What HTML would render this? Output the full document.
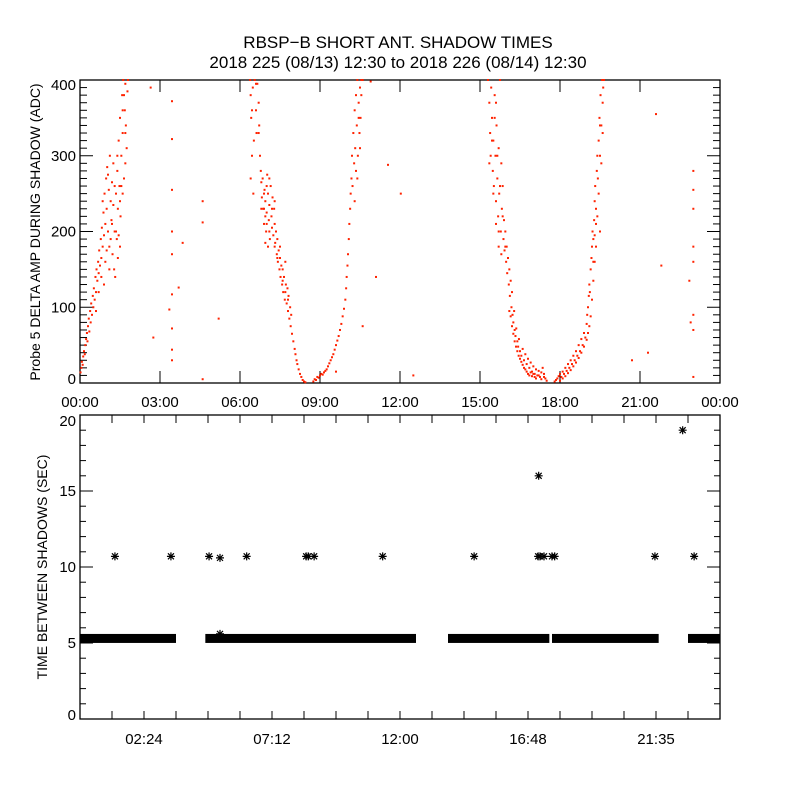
<!DOCTYPE html>
<html><head><meta charset="utf-8"><style>
html,body{margin:0;padding:0;background:#fff;}
svg text{font-family:"Liberation Sans",sans-serif;fill:#000;}
</style></head><body>
<svg id="chart" width="800" height="800" viewBox="0 0 800 800" xmlns="http://www.w3.org/2000/svg">
<rect width="800" height="800" fill="#fff"/>
<text x="398" y="48" font-size="17" text-anchor="middle">RBSP−B SHORT ANT. SHADOW TIMES</text>
<text x="398" y="68" font-size="17" text-anchor="middle">2018 225 (08/13) 12:30 to 2018 226 (08/14) 12:30</text>
<g id="topPanel"></g>
<g id="botPanel"></g>
<text transform="translate(40,232) rotate(-90)" font-size="14" text-anchor="middle">Probe 5 DELTA AMP DURING SHADOW (ADC)</text>
<text transform="translate(47,567) rotate(-90)" font-size="14" text-anchor="middle">TIME BETWEEN SHADOWS (SEC)</text>
</svg>
<script>
// ---- data: top panel (hours, ADC) ----
const riseA = [[0.02,14],[0.05,20],[0.07,28],[0.1,24],[0.12,35],[0.15,42],[0.18,38],[0.2,50],[0.23,58],[0.26,66],[0.28,55],[0.3,75],[0.33,85],[0.35,68],[0.38,95],[0.4,80],[0.42,105],[0.45,90],[0.48,115],[0.5,100],[0.52,125],[0.55,110],[0.58,140],[0.6,120],[0.62,150],[0.65,135],[0.68,160],[0.7,145],[0.72,175],[0.75,155],[0.78,190],[0.8,165],[0.82,205],[0.85,180],[0.88,225],[0.9,195],[0.92,250],[0.95,210],[0.98,270],[1.0,230],[1.02,285],[1.05,200],[1.08,255],[1.1,180],[1.12,300],[1.15,240],[1.18,215],[1.2,265],[1.22,170],[1.25,235],[1.28,150],[1.3,200],[1.32,140],[1.35,250],[1.38,190],[1.4,280],[1.42,165],[1.45,320],[1.48,260],[1.5,350],[1.52,220],[1.55,300],[1.58,380],[1.6,330],[1.62,400],[1.65,270],[1.68,360],[1.7,395],[1.72,340],[1.75,310],[1.78,385],[1.8,400],[1.42,230],[1.5,180],[1.35,200],[0.95,160],[1.05,275],[0.85,240],[1.15,190],[1.25,290],[1.6,250],[1.7,290]];
const fallB = [[6.38,400],[6.4,380],[6.42,350],[6.45,300],[6.4,270],[6.48,390],[6.52,320],[6.55,400],[6.6,360],[6.62,330],[6.65,395],[6.7,370],[6.72,340],[6.75,300],[6.78,280],[6.8,265],[6.82,245],[6.85,270],[6.87,230],[6.9,210],[6.92,255],[6.95,240],[6.98,200],[7.0,225],[7.02,275],[7.05,250],[7.08,215],[7.1,235],[7.12,190],[7.15,260],[7.18,220],[7.2,205],[7.22,245],[7.25,195],[7.28,230],[7.3,210],[7.32,185],[7.35,200],[7.38,170],[7.4,190],[7.42,160],[7.45,175],[7.48,150],[7.5,165],[7.52,140],[7.55,155],[7.58,130],[7.6,150],[7.62,120],[7.65,140],[7.68,110],[7.7,160],[7.72,130],[7.75,105],[7.78,125],[7.8,95],[7.82,115],[7.85,85],[7.88,100],[7.9,75],[7.92,90],[7.95,65],[8.0,55],[8.05,45],[8.08,38],[8.12,30],[8.15,25],[8.2,18],[8.25,12],[8.3,8],[8.35,4],[8.4,2],[8.45,1],[6.95,185],[7.05,180],[7.3,240],[7.1,270],[6.9,230]];
const riseC = [[8.75,2],[8.8,5],[8.85,4],[8.9,8],[8.95,7],[9.0,10],[9.05,12],[9.1,11],[9.15,14],[9.2,16],[9.25,18],[9.3,22],[9.35,26],[9.4,30],[9.45,34],[9.5,38],[9.55,44],[9.6,50],[9.65,56],[9.7,62],[9.75,70],[9.8,78],[9.85,88],[9.9,98],[9.95,110],[9.98,125],[10.0,140],[10.03,155],[10.05,170],[10.08,190],[10.1,210],[10.13,230],[10.15,250],[10.18,270],[10.2,300],[10.22,260],[10.25,330],[10.28,290],[10.3,360],[10.32,310],[10.35,380],[10.38,340],[10.4,400],[10.42,300],[10.45,370],[10.48,330],[10.5,390],[10.52,350],[10.55,400],[10.3,240],[10.35,280]];
const fallD = [[15.3,400],[15.35,370],[15.38,330],[15.4,300],[15.42,390],[15.45,350],[15.48,280],[15.5,320],[15.52,260],[15.55,380],[15.58,300],[15.6,240],[15.62,340],[15.65,270],[15.68,220],[15.7,310],[15.72,250],[15.75,400],[15.78,200],[15.8,290],[15.82,230],[15.85,260],[15.88,190],[15.9,215],[15.92,175],[15.95,200],[15.98,160],[16.0,180],[16.02,145],[16.05,165],[16.08,130],[16.1,150],[16.12,115],[16.15,135],[16.18,100],[16.2,120],[16.22,90],[16.25,80],[16.28,95],[16.3,70],[16.33,62],[16.36,72],[16.4,55],[16.43,48],[16.46,58],[16.5,42],[16.55,36],[16.6,45],[16.65,30],[16.7,38],[16.75,25],[16.8,32],[16.85,20],[16.9,27],[16.95,15],[17.0,22],[17.05,12],[17.1,18],[17.15,10],[17.2,16],[17.25,8],[17.3,14],[17.35,20],[17.4,12],[17.45,6],[17.5,3],[15.6,370],[15.7,180]];
const fallD2 = [[16.3,55],[16.35,48],[16.4,42],[16.45,36],[16.5,32],[16.55,28],[16.6,24],[16.65,20],[16.7,18],[16.75,15],[16.8,12],[16.85,10],[16.9,14],[16.95,9],[17.0,12],[17.05,8],[17.1,6],[17.2,10],[17.3,5],[17.4,8],[16.2,75],[16.25,65],[16.1,95],[16.15,88]];
const riseE = [[17.8,2],[17.85,4],[17.9,6],[17.95,9],[18.0,12],[18.05,8],[18.1,15],[18.15,12],[18.2,20],[18.25,16],[18.3,25],[18.35,20],[18.4,30],[18.45,25],[18.5,36],[18.55,30],[18.6,42],[18.65,36],[18.7,50],[18.75,42],[18.8,58],[18.85,50],[18.9,66],[18.95,60],[19.0,78],[19.02,90],[19.05,100],[19.08,115],[19.1,130],[19.12,120],[19.15,150],[19.18,165],[19.2,180],[19.22,200],[19.25,190],[19.28,215],[19.3,240],[19.32,260],[19.35,230],[19.38,280],[19.4,300],[19.42,270],[19.45,320],[19.48,350],[19.5,300],[19.52,380],[19.55,340],[19.58,400],[19.6,370],[19.62,390],[19.35,180],[19.25,160]];
const riseE2 = [[18.0,3],[18.1,6],[18.2,9],[18.3,13],[18.4,17],[18.5,22],[18.6,27],[18.7,33],[18.8,40],[18.9,48],[19.0,57],[19.05,66],[19.1,75],[19.15,88],[19.2,110],[19.25,135],[19.3,160],[19.3,195],[19.35,210]];
const cloudExtra = [[0.9,130],[1.0,175],[1.1,150],[1.2,210],[1.3,260],[1.4,300],[1.5,240],[1.6,360],[1.7,330],[1.55,260],[1.45,195],[1.65,380],[0.7,120],[0.8,140],[0.6,95],[6.45,360],[6.5,250],[6.6,395],[6.7,330],[6.8,230],[6.9,250],[7.0,210],[7.1,200],[7.2,230],[7.3,180],[7.4,165],[7.5,180],[7.6,135],[7.7,120],[7.8,110],[7.0,260],[6.95,220],[10.45,350],[10.5,310],[10.4,270],[10.55,380],[10.6,400],[15.35,290],[15.45,320],[15.55,350],[15.65,300],[15.75,260],[15.85,220],[15.95,180],[15.5,250],[15.6,210],[15.7,200],[15.8,170],[19.45,250],[19.5,340],[19.55,290],[19.6,330],[19.65,400],[19.4,220],[19.5,200]];
const strays = [[2.65,390],[3.45,372],[3.45,322],[3.45,255],[3.45,200],[3.45,170],[3.45,117],[3.45,72],[3.45,44],[3.45,30],[3.35,97],[2.75,60],[3.85,185],[3.7,126],[4.6,240],[4.6,212],[4.6,5],[5.2,85],[9.6,15],[10.6,75],[11.1,140],[11.55,288],[10.9,398],[12.5,10],[12.03,250],[21.6,355],[23.0,280],[23.0,255],[23.0,230],[23.0,180],[23.0,160],[23.0,90],[23.0,70],[23.0,8],[21.8,155],[22.85,135],[22.9,80],[21.3,40],[20.7,30]];
// ---- data: bottom panel ----
const bandStart = [0.0, 4.7, 13.8, 17.7, 22.8];
const bandEnd = [3.6, 12.6, 17.6, 21.7, 24.0];
const bandValue = [5.3, 5.3, 5.3, 5.3, 5.3];
const starHours = [1.31,3.41,4.84,5.25,6.25,8.48,8.56,8.78,11.35,14.78,17.18,17.25,17.4,17.7,17.8,21.56,23.03,17.2,22.6,5.25];
const starValues = [10.7,10.7,10.7,10.6,10.7,10.7,10.7,10.7,10.7,10.7,10.7,10.7,10.7,10.7,10.7,10.7,10.7,16.0,19.0,5.6];
const topXTicks = ["00:00","03:00","06:00","09:00","12:00","15:00","18:00","21:00","00:00"];
const topYTicks = [0,100,200,300,400];
const botXTickHours = [2.4,7.2,12.0,16.8,21.6];
const botXTicks = ["02:24","07:12","12:00","16:48","21:35"];
const botYTicks = [0,5,10,15,20];

const NS="http://www.w3.org/2000/svg";
const L=80,R=720;
const xs=h=>L+(h/24)*(R-L);
const ty=v=>383-(v/400)*303;
const by=v=>719-(v/20)*304;
function mk(tag,parent,attrs){const e=document.createElementNS(NS,tag);for(const k in attrs)e.setAttribute(k,attrs[k]);parent.appendChild(e);return e;}
const topG=document.getElementById('topPanel'), botG=document.getElementById('botPanel');

let f=mk('rect',topG,{x:L,y:80,width:R-L,height:303,fill:'none',stroke:'#000','stroke-width':1.3});


topXTicks.forEach((t,i)=>{const x=xs(i*3);
 mk('line',topG,{x1:x,y1:383,x2:x,y2:371,stroke:'#000'});
 mk('line',topG,{x1:x,y1:80,x2:x,y2:92,stroke:'#000'});
 const tx=mk('text',topG,{x:x,y:407,'font-size':15,'text-anchor':'middle'});tx.textContent=t;
 
 
});
for(let v=0;v<=400;v+=10){const y=ty(v);const len=(v%100===0)?13:7;
 mk('line',topG,{x1:L,y1:y,x2:L+len,y2:y,stroke:'#000'});
 mk('line',topG,{x1:R,y1:y,x2:R-len,y2:y,stroke:'#000'});}
topYTicks.forEach(v=>{let y=ty(v)+5;if(v===0)y-=4;if(v===400)y+=5;
 const tx=mk('text',topG,{x:76,y:y,'font-size':15,'text-anchor':'end'});tx.textContent=v;
 
 
});
const dots=mk('g',topG,{fill:'#ff2200'});


[riseA,fallB,riseC,fallD,fallD2,riseE,riseE2,cloudExtra,strays].forEach(arr=>arr.forEach(p=>{
 const r=mk('rect',dots,{x:xs(p[0])-1,y:ty(p[1])-1,width:2,height:2});
 
 
}));

f=mk('rect',botG,{x:L,y:415,width:R-L,height:304,fill:'none',stroke:'#000','stroke-width':1.3});


for(let i=0;i<=20;i++){const x=L+i*32;
 mk('line',botG,{x1:x,y1:719,x2:x,y2:711,stroke:'#000'});
 mk('line',botG,{x1:x,y1:415,x2:x,y2:423,stroke:'#000'});}
botXTicks.forEach((t,i)=>{const tx=mk('text',botG,{x:xs(botXTickHours[i]),y:744,'font-size':15,'text-anchor':'middle'});tx.textContent=t;
 
 
});
for(let v=0;v<=20;v++){const y=by(v);const len=(v%5===0)?13:6;
 mk('line',botG,{x1:L,y1:y,x2:L+len,y2:y,stroke:'#000'});
 mk('line',botG,{x1:R,y1:y,x2:R-len,y2:y,stroke:'#000'});}
botYTicks.forEach(v=>{let y=by(v)+5;if(v===0)y-=4;if(v===20)y+=6;
 const tx=mk('text',botG,{x:76,y:y,'font-size':15,'text-anchor':'end'});tx.textContent=v;
 
 
});
bandStart.forEach((s,i)=>{const x1=xs(bandStart[i]),x2=xs(bandEnd[i]),y=by(bandValue[i]);
 const r=mk('rect',botG,{x:x1,y:y-4.5,width:Math.max(1,x2-x1),height:9,fill:'#000'});
 
 
});
starHours.forEach((h,i)=>{const x=xs(h),y=by(starValues[i]);
 const g=mk('path',botG,{d:`M${x-4} ${y}H${x+4}M${x} ${y-4}V${y+4}M${x-3} ${y-3}L${x+3} ${y+3}M${x-3} ${y+3}L${x+3} ${y-3}`,stroke:'#000','stroke-width':1.2,fill:'none'});
 
 
});
</script>
</body></html>
